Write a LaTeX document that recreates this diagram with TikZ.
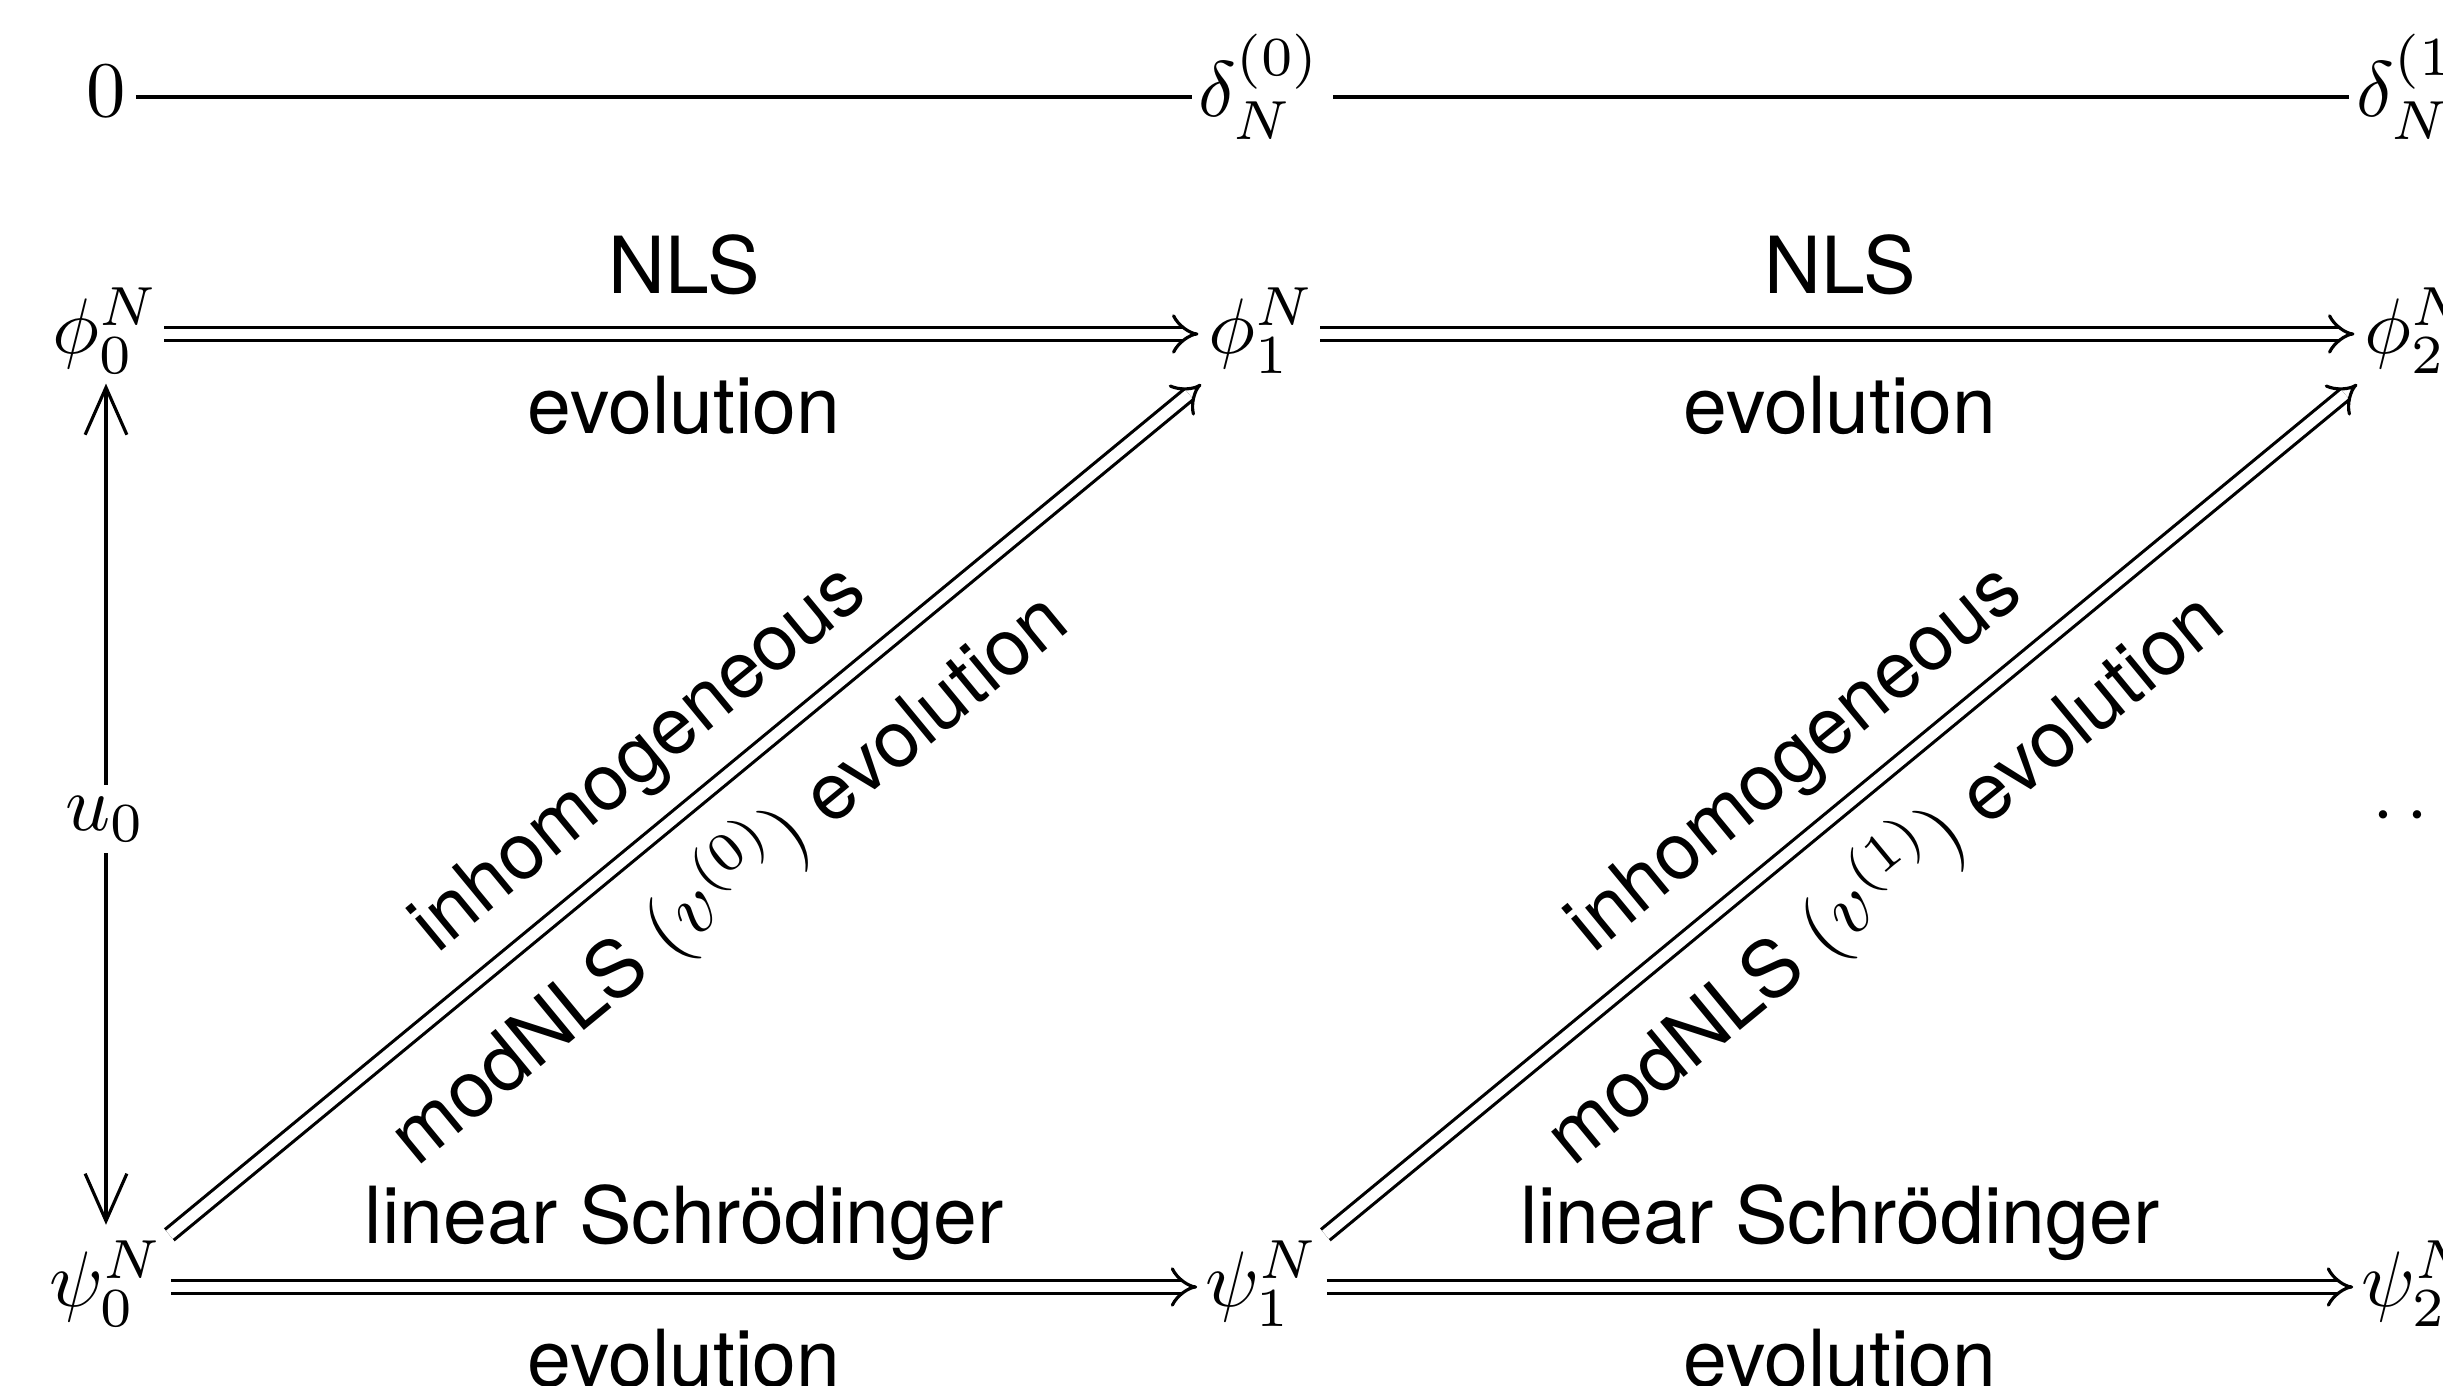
\documentclass[tikz,border=0pt]{standalone}
\usepackage{fontspec}
\setsansfont{TeX Gyre Heros}
\usetikzlibrary{arrows.meta}

\begin{document}
\begin{tikzpicture}[x=0.127pt, y=-0.127pt,
  % math objects: box centred on the math axis
  obj/.style={inner sep=0pt, text height=8.6pt, text depth=3.6pt, anchor=center},
  lbl/.style={font=\sffamily, inner sep=0pt},
  plain/.style={line width=0.4pt},
  evol/.style={line width=0.4pt, double, double distance=1.34pt, -{Implies}},
  updown/.style={line width=0.4pt,
    {Straight Barb[length=6pt,width=5.3pt]}-{Straight Barb[length=6pt,width=5.3pt]}}]

\useasboundingbox (0,0) rectangle (2443,1386);

% objects
\node[obj] (zero) at (106,97)   {$0$};
\node[obj] (d0)   at (1260,97)  {$\delta_N^{(0)}$};
\node[obj] (d1)   at (2418,97)  {$\delta_N^{(1)}$};
\node[obj] (p0)   at (106,334)  {$\phi_0^N$};
\node[obj] (p1)   at (1262,334) {$\phi_1^N$};
\node[obj] (p2)   at (2418,334) {$\phi_2^N$};
\node[obj] (dots) at (2418,815) {$\cdots$};
\node[obj] (q0)   at (106,1287) {$\psi_0^N$};
\node[obj] (q1)   at (1262,1287){$\psi_1^N$};
\node[obj] (q2)   at (2418,1287){$\psi_2^N$};

% top row
\draw[plain, shorten <=1.1pt, shorten >=0.6pt] (zero) -- (d0);
\draw[plain, shorten <=1.3pt, shorten >=0.8pt] (d0) -- (d1);

% NLS evolution
\draw[evol, shorten <=0.4pt, shorten >=1.1pt] (p0) -- (p1)
  node[lbl, midway, anchor=base, yshift=5.2pt] {NLS}
  node[lbl, midway, anchor=base, yshift=-12.6pt] {evolution};
\draw[evol, shorten <=0.4pt, shorten >=1.1pt] (p1) -- (p2)
  node[lbl, midway, anchor=base, yshift=5.2pt] {NLS}
  node[lbl, midway, anchor=base, yshift=-12.6pt] {evolution};

% linear evolution
\draw[evol, shorten <=0.8pt, shorten >=0.8pt] (q0) -- (q1)
  node[lbl, midway, anchor=base, yshift=5.5pt] {linear Schrödinger}
  node[lbl, midway, anchor=base, yshift=-12.6pt] {evolution};
\draw[evol, shorten <=0.8pt, shorten >=0.8pt] (q1) -- (q2)
  node[lbl, midway, anchor=base, yshift=5.5pt] {linear Schrödinger}
  node[lbl, midway, anchor=base, yshift=-12.6pt] {evolution};

% inhomogeneous modified evolution
\draw[evol, shorten <=0.8pt, shorten >=1pt] (q0) -- (p1)
  node[lbl, pos=0.497, sloped, anchor=base, yshift=5.8pt] {inhomogeneous}
  node[lbl, pos=0.492, sloped, anchor=base, yshift=-13.5pt]
    {modNLS $(v^{(0)})$ evolution};
\draw[evol, shorten <=0.8pt, shorten >=1pt] (q1) -- (p2)
  node[lbl, pos=0.497, sloped, anchor=base, yshift=5.8pt] {inhomogeneous}
  node[lbl, pos=0.492, sloped, anchor=base, yshift=-13.5pt]
    {modNLS $(v^{(1)})$ evolution};

% initial datum
\draw[updown, shorten >=1.6pt] (p0) -- (q0)
  node[pos=0.51, fill=white, inner sep=1.4pt] {$u_0$};

\end{tikzpicture}
\end{document}
